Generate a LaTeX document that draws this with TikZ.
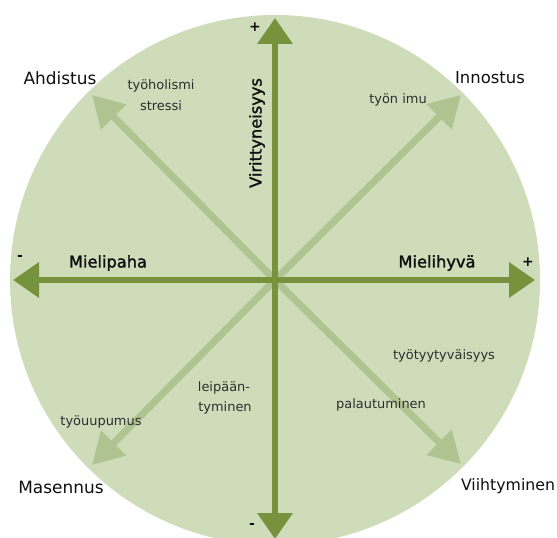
\documentclass[tikz,border=0pt]{standalone}
\usepackage{fontspec}
\setmainfont{DejaVu Sans}
\newfontfamily\semib[FakeBold=1.6]{DejaVu Sans}
\usetikzlibrary{arrows.meta}
\definecolor{disc}{RGB}{206,220,186}
\definecolor{axisc}{RGB}{118,146,60}
\definecolor{diagc}{RGB}{176,196,146}
\definecolor{txt}{RGB}{15,15,15}
\definecolor{smalltxt}{RGB}{45,45,45}
\begin{document}
\begin{tikzpicture}[x=1bp,y=-1bp,
  axisarrow/.style={draw=axisc, line width=6.5bp, -{Triangle[length=26bp,width=34bp]}},
  diagarrow/.style={draw=diagc, line width=7bp, -{Triangle[length=31bp,width=34bp]}},
  mainlbl/.style={font=\fontsize{17}{19}\selectfont, text=txt, inner sep=0pt},
  axislbl/.style={font=\semib\fontsize{16.3}{18}\selectfont, text=txt, inner sep=0pt},
  smalllbl/.style={font=\fontsize{13}{15}\selectfont, text=smalltxt, inner sep=0pt, align=center},
  signlbl/.style={font=\bfseries\fontsize{14}{16}\selectfont, text=txt, inner sep=0pt}]
\useasboundingbox (0,0) rectangle (557,538);
\coordinate (c) at (275,280);
\fill[disc] (c) circle[radius=265bp];
% diagonal ends
\coordinate (nw) at (92,95);
\coordinate (ne) at (461,95);
\coordinate (sw) at (92,465);
\coordinate (se) at (461,464);
\draw[diagarrow] (c) -- (nw);
\draw[diagarrow] (c) -- (ne);
\draw[diagarrow] (c) -- (sw);
\draw[diagarrow] (c) -- (se);
% axes
\coordinate (top) at (275,18);
\coordinate (bot) at (275,539);
\coordinate (lft) at (13,280);
\coordinate (rgt) at (535,280);
\draw[axisarrow] (c) -- (top);
\draw[axisarrow] (c) -- (bot);
\draw[axisarrow] (c) -- (lft);
\draw[axisarrow] (c) -- (rgt);
% signs
\node[signlbl] (plustop) at (255,27) {+};
\node[signlbl] (plusright) at (528,262) {+};
\node[signlbl] (minusleft) at (20,258) {-};
\node[signlbl] (minusbot) at (252,526) {-};
% axis labels
\node[axislbl] (mielipaha) at (108,263) {Mielipaha};
\node[axislbl] (mielihyva) at (437,263) {Mielihyvä};
\node[axislbl, rotate=90] (vire) at (257,133) {Virittyneisyys};
% corner labels
\node[mainlbl] (ahdistus) at (60,78) {Ahdistus};
\node[mainlbl, font=\fontsize{16.5}{19}\selectfont] (innostus) at (490,78) {Innostus};
\node[mainlbl] (masennus) at (61,487) {Masennus};
\node[mainlbl, font=\fontsize{15.8}{19}\selectfont] (viihtyminen) at (508,486) {Viihtyminen};
% small labels
\node[smalllbl] (tyoholismi) at (161,86) {työholismi};
\node[smalllbl] (stressi) at (161,106) {stressi};
\node[smalllbl] (tyonimu) at (398,100) {työn imu};
\node[smalllbl] (tyytyv) at (444,356) {työtyytyväisyys};
\node[smalllbl] (palaut) at (381,405) {palautuminen};
\node[smalllbl] (leipaan) at (224,388) {leipään-};
\node[smalllbl] (tyminen) at (225,408) {tyminen};
\node[smalllbl] (uupumus) at (101,422) {työuupumus};
\end{tikzpicture}
\end{document}
